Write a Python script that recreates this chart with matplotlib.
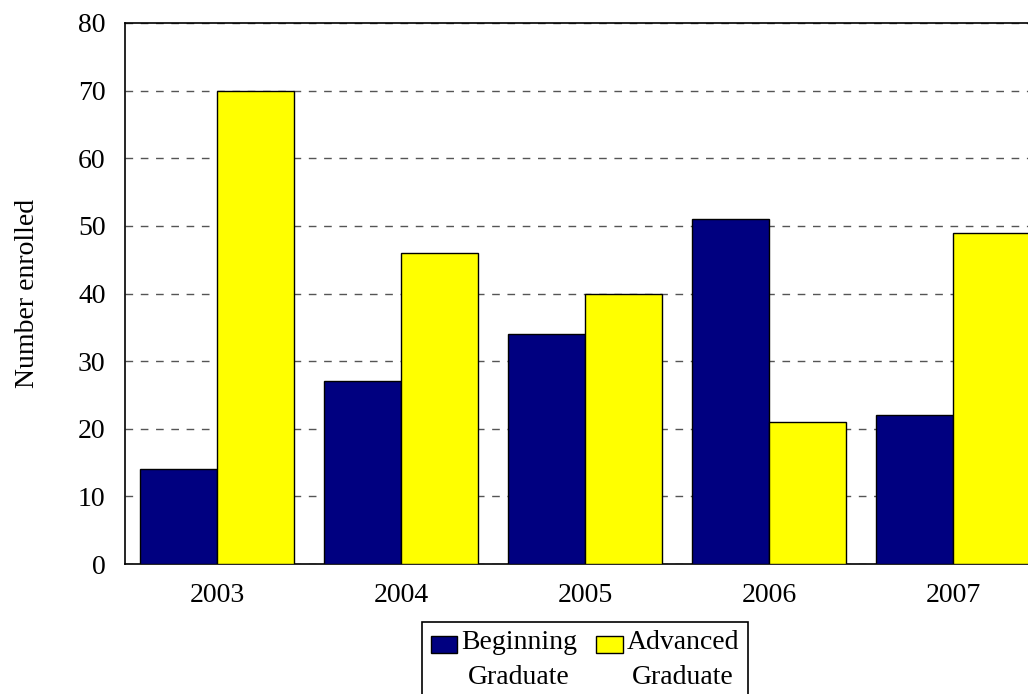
import numpy as np
import matplotlib
matplotlib.use('Agg')
import matplotlib.pyplot as plt
import matplotlib.patches as mpatches
from matplotlib.container import BarContainer
from matplotlib.legend_handler import HandlerPatch, update_from_first_child

years = ['2003', '2004', '2005', '2006', '2007']
beginning = [14, 27, 34, 51, 22]
advanced = [70, 46, 40, 21, 49]

plt.rcParams['font.family'] = ['Liberation Serif', 'DejaVu Serif']

fig = plt.figure(figsize=(10.28, 6.94), dpi=100)
# axes runs a bit past the right edge, as in the original
ax = fig.add_axes([125 / 1028, 1 - 564 / 694, 920 / 1028, (564 - 23) / 694])

x = np.arange(len(years))
w = 0.42
ax.bar(x - w / 2, beginning, w, color='#000080', edgecolor='black', linewidth=1,
       label='Beginning\nGraduate', zorder=3)
ax.bar(x + w / 2, advanced, w, color='#FFFF00', edgecolor='black', linewidth=1,
       label='Advanced\nGraduate', zorder=3)

ax.set_xlim(-0.5, len(years) - 0.5)
ax.set_ylim(0, 80)
ax.set_yticks(range(0, 81, 10))
ax.set_xticks(x)
ax.set_xticklabels(years)
ax.tick_params(length=0, labelsize=20, pad=14)
ax.yaxis.grid(True, linestyle=(0, (5.5, 5.5)), color='#555555', linewidth=1, zorder=0)
ax.set_axisbelow(True)
ax.spines['right'].set_visible(False)
for s in ['left', 'bottom', 'top']:
    ax.spines[s].set_linewidth(1.2)
ax.set_ylabel('Number enrolled', fontsize=20, labelpad=27)


# legend swatch sits next to the first line of the label
def up_patch(legend, orig_handle, xdescent, ydescent, width, height, fontsize):
    return mpatches.Rectangle((-xdescent, -ydescent + 0.55 * fontsize), width, height)


leg = ax.legend(loc='upper center', bbox_to_anchor=(0.5, -0.107), ncol=2,
                fontsize=20, frameon=True, fancybox=False, edgecolor='black',
                handlelength=0.94, handleheight=0.54, handletextpad=0.15,
                columnspacing=0.7, borderpad=0.3, borderaxespad=0, framealpha=1,
                handler_map={BarContainer: HandlerPatch(patch_func=up_patch,
                                                        update_func=update_from_first_child)})
leg.get_frame().set_linewidth(1.2)
for t in leg.get_texts():
    t.set_multialignment('center')
    t.set_linespacing(1.5)

fig.savefig('out.png', dpi=100)
